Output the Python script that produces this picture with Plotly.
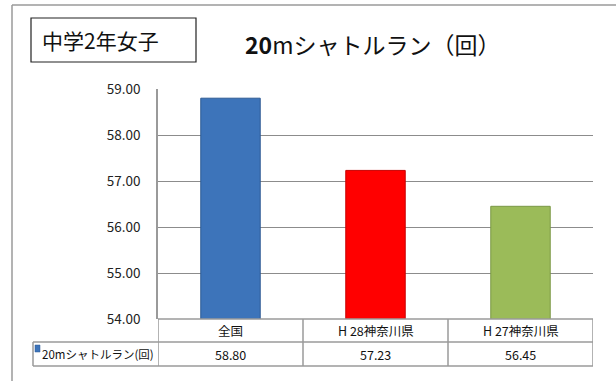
import plotly.graph_objects as go

# data
categories = ['全国', 'H 28神奈川県', 'H 27神奈川県']
values = [58.80, 57.23, 56.45]
title_text = '<b>20</b>mシャトルラン（回）'
series_name = '20mシャトルラン(回)'
badge_text = '中学2年女子'
bar_colors = ['#3D74BA', '#FF0000', '#9BBB59']
bar_edges = ['#2E5A94', '#C80000', '#7A9845']

font = 'Noto Sans CJK JP, Noto Sans, sans-serif'
grey = '#9A9A9A'

fig = go.Figure()
fig.add_trace(go.Bar(
    x=categories, y=values, width=0.41,
    marker=dict(color=bar_colors, line=dict(color=bar_edges, width=1)),
    showlegend=False, hoverinfo='x+y'
))

W, H = 616, 381
# plot area in screen pixels
L, R, T, B = 158, 593, 89, 319
px = lambda v: (v - L) / (R - L)
py = lambda v: (B - v) / (B - T)

shapes = []
# outer frame (clipped chart border)
shapes.append(dict(type='line', xref='paper', yref='paper', x0=px(12), x1=px(12),
                   y0=py(5), y1=py(400), line=dict(color=grey, width=1.5)))
shapes.append(dict(type='line', xref='paper', yref='paper', x0=px(12), x1=px(640),
                   y0=py(5), y1=py(5), line=dict(color=grey, width=1.5)))
# badge box
shapes.append(dict(type='rect', xref='paper', yref='paper', x0=px(31), x1=px(196),
                   y0=py(62), y1=py(18), line=dict(color='#222', width=1.2)))

# data table grid
r1, r2, r3 = py(319), py(342), py(366)
for y in (r1, r2, r3):
    x0 = px(33) if y != r1 else 0
    shapes.append(dict(type='line', xref='paper', yref='paper', x0=x0, x1=1,
                       y0=y, y1=y, line=dict(color=grey, width=1.5)))
shapes.append(dict(type='line', xref='paper', yref='paper', x0=px(33), x1=px(33),
                   y0=r2, y1=r3, line=dict(color=grey, width=1.5)))
for i in range(len(categories) + 1):
    shapes.append(dict(type='line', xref='x', yref='paper', x0=i - 0.5, x1=i - 0.5,
                       y0=r1, y1=r3, line=dict(color=grey, width=1.5)))
# legend key
shapes.append(dict(type='rect', xref='paper', yref='paper', x0=px(35), x1=px(40),
                   y0=py(352), y1=py(345), fillcolor='#3D74BA',
                   line=dict(color='#2E5A94', width=0.5)))

annotations = [
    dict(text=badge_text, xref='paper', yref='paper', x=px(40), y=py(40),
         xanchor='left', yanchor='middle', showarrow=False,
         font=dict(size=21, color='#111', family=font)),
    dict(text=title_text, xref='paper', yref='paper',
         x=px(243), y=py(44), xanchor='left', yanchor='middle', showarrow=False,
         font=dict(size=23, color='#111', family=font)),
    dict(text=series_name, xref='paper', yref='paper', x=px(40), y=(r2 + r3) / 2,
         xanchor='left', yanchor='middle', showarrow=False,
         font=dict(size=11.5, color='#111', family=font)),
]
for c, v in zip(categories, values):
    annotations.append(dict(text=c, xref='x', yref='paper', x=c, y=(r1 + r2) / 2,
                            showarrow=False, yanchor='middle',
                            font=dict(size=12.5, color='#111', family=font)))
    annotations.append(dict(text=f'{v:.2f}', xref='x', yref='paper', x=c, y=(r2 + r3) / 2,
                            showarrow=False, yanchor='middle',
                            font=dict(size=12.5, color='#111', family=font)))

fig.update_layout(
    width=W, height=H,
    margin=dict(l=L, r=W - R, t=T, b=H - B),
    paper_bgcolor='white', plot_bgcolor='white',
    font=dict(family=font, color='#111'),
    shapes=shapes, annotations=annotations,
    xaxis=dict(range=[-0.5, 2.5], showticklabels=False, showgrid=False,
               zeroline=False, showline=False, fixedrange=True),
    yaxis=dict(range=[54, 59], dtick=1, tickformat='.2f', showgrid=True,
               gridcolor='#8C8C8C', gridwidth=1.2, zeroline=False, showline=True,
               linecolor=grey, linewidth=1.5, ticks='', ticklabelstandoff=13,
               tickfont=dict(size=13.5, color='#222', family=font), fixedrange=True),
)

# drop the browser's default 8px body margin so the figure fills the window
fig.write_html('out.html', config={'displayModeBar': False},
               post_script="document.body.style.margin='0';")
